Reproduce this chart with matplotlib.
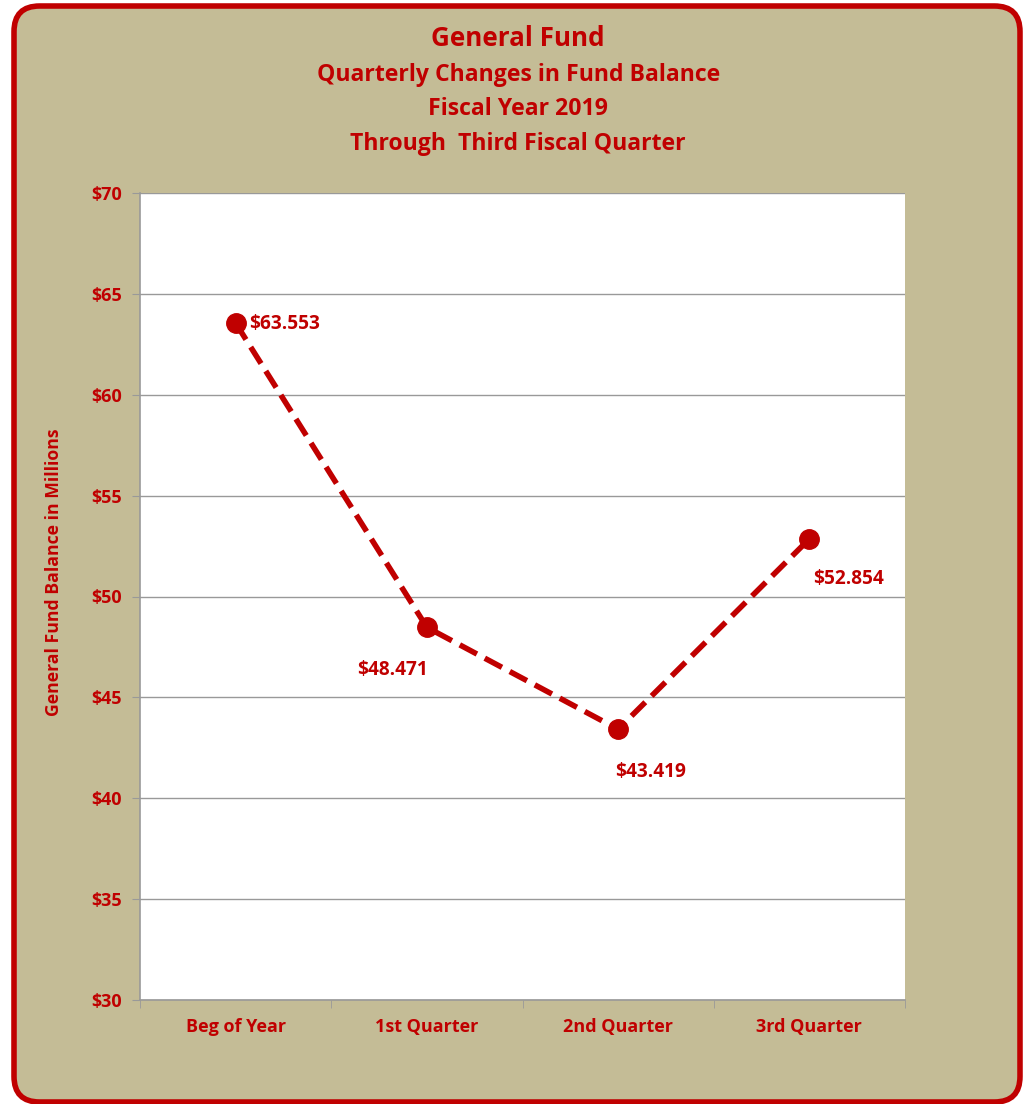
import matplotlib
matplotlib.use("Agg")
import matplotlib.pyplot as plt
from matplotlib.patches import FancyBboxPatch
from matplotlib.ticker import MultipleLocator, FuncFormatter

categories = ["Beg of Year", "1st Quarter", "2nd Quarter", "3rd Quarter"]
balances = [63.553, 48.471, 43.419, 52.854]
labels = ["$63.553", "$48.471", "$43.419", "$52.854"]
# offsets in points for each data label (dx, dy, ha, va)
label_pos = [(10, -1, "left", "center"), (-25, -31, "center", "center"),
             (23, -31, "center", "center"), (28, -29, "center", "center")]

red = "#C00000"
tan = "#C4BC96"
grid = "#999999"

plt.rcParams["font.family"] = ["Open Sans", "DejaVu Sans"]
plt.rcParams["font.weight"] = "bold"

fig = plt.figure(figsize=(10.24, 11.04), dpi=100)
fig.patch.set_facecolor("white")

W, H = 1024, 1104
border = FancyBboxPatch((14 / W, 2 / H), (1020 - 14) / W, (1102 - 6) / H,
                        boxstyle="round,pad=0,rounding_size=0.025",
                        transform=fig.transFigure, facecolor=tan,
                        edgecolor=red, linewidth=4, zorder=-5,
                        mutation_aspect=W / H)
fig.patches.append(border)

ax = fig.add_axes([140 / W, 1 - 1000 / H, (905 - 140) / W, (1000 - 193) / H])
ax.set_zorder(2)
ax.set_facecolor("white")

x = list(range(len(categories)))
ax.plot(x, balances, color=red, linewidth=4, linestyle=(0, (3.5, 1.6)),
        marker="o", markersize=14, zorder=3, clip_on=False)

fs = 13
for xi, v, lab, (dx, dy, ha, va) in zip(x, balances, labels, label_pos):
    ax.annotate(lab, (xi, v), xytext=(dx, dy), textcoords="offset points",
                ha=ha, va=va, color=red, fontsize=13.8, fontweight="bold")

ax.set_xlim(-0.5, len(categories) - 0.5)
ax.set_ylim(30, 70)
ax.yaxis.set_major_locator(MultipleLocator(5))
ax.yaxis.set_major_formatter(FuncFormatter(lambda v, p: f"${v:.0f}"))
ax.set_xticks(x)
ax.set_xticklabels(categories)
ax.set_xticks([i - 0.5 for i in range(len(categories) + 1)], minor=True)
ax.tick_params(axis="x", which="major", length=0, pad=13, labelsize=fs,
               labelcolor=red)
ax.tick_params(axis="x", which="minor", length=6, color=grid, direction="out")
ax.tick_params(axis="y", length=6, color=grid, labelsize=fs, labelcolor=red,
               pad=7)
for lab in ax.get_xticklabels() + ax.get_yticklabels():
    lab.set_fontweight("bold")

ax.grid(axis="y", color=grid, linewidth=1)
ax.set_axisbelow(True)
for s in ["top", "right"]:
    ax.spines[s].set_visible(False)
for s in ["left", "bottom"]:
    ax.spines[s].set_color(grid)
    ax.spines[s].set_linewidth(1.2)

ax.set_ylabel("General Fund Balance in Millions", color=red, fontsize=12.7,
              fontweight="bold")
ax.yaxis.set_label_coords(-0.1, 0.53)

fig.text(0.506, 1 - 38 / H, "General Fund", ha="center", va="center",
         color=red, fontsize=18.7, fontweight="bold")
fig.text(0.506, 1 - 75 / H, "Quarterly Changes in Fund Balance", ha="center",
         va="center", color=red, fontsize=16.6, fontweight="bold")
fig.text(0.506, 1 - 109 / H, "Fiscal Year 2019", ha="center", va="center",
         color=red, fontsize=16.6, fontweight="bold")
fig.text(0.506, 1 - 144 / H, "Through  Third Fiscal Quarter", ha="center",
         va="center", color=red, fontsize=16.6, fontweight="bold")

fig.savefig("out.png", dpi=100)
